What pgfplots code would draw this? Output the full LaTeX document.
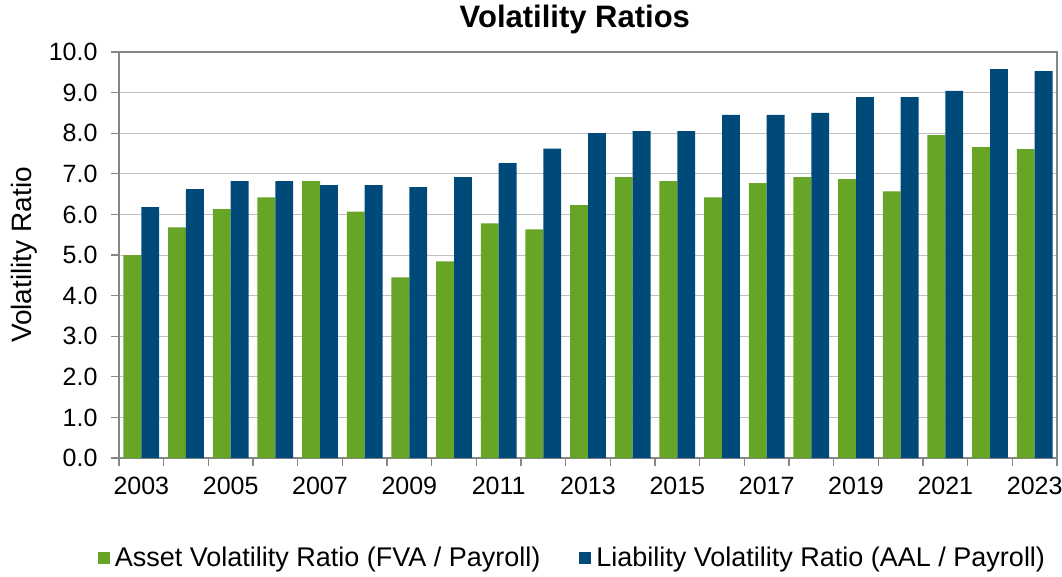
\documentclass[border=0pt]{standalone}
\usepackage{pgfplots}
\pgfplotsset{compat=1.18}
\usepackage{fontspec}
\setmainfont{Liberation Sans}
\definecolor{cgreen}{RGB}{102,165,38}
\definecolor{cblue}{RGB}{0,74,121}
\definecolor{cgrid}{RGB}{192,192,192}
\definecolor{caxis}{RGB}{134,134,134}
\begin{document}
\begin{tikzpicture}
\begin{axis}[
  scale only axis,
  width=938bp, height=406bp,
  at={(0,0)}, anchor=south west,
  ybar=0pt, bar width=0.4,
  xmin=-0.5, xmax=20.5,
  ymin=0, ymax=10,
  xtick={-0.5,0.5,...,20.5},
  xticklabels={},
  extra x ticks={0,2,...,20},
  extra x tick labels={2003,2005,2007,2009,2011,2013,2015,2017,2019,2021,2023},
  extra x tick style={major tick length=0pt},
  ytick={0,1,...,10},
  xtick pos=bottom, ytick pos=left,
  tick align=outside,
  major tick length=8bp,
  tick style={color=caxis, line width=1.2bp},
  axis line style={color=caxis, line width=1.2bp},
  ymajorgrids, xmajorgrids=false, major grid style={color=cgrid, line width=1bp},
  /pgf/number format/assume math mode=true,
  yticklabel style={/pgf/number format/fixed, /pgf/number format/fixed zerofill, /pgf/number format/precision=1},
  every y tick label/.append style={xshift=-10bp},
  every x tick label/.append style={yshift=-16bp},
  ticklabel style={font=\fontsize{25bp}{30bp}\selectfont},
  ylabel={Volatility Ratio},
  ylabel style={font=\fontsize{28bp}{32bp}\selectfont, at={(axis description cs:-0.1013,0.5)}, anchor=center, rotate=0},
  title={Volatility Ratios},
  title style={font=\bfseries\fontsize{31bp}{36bp}\selectfont, at={(axis description cs:0.486,1)}, anchor=base, yshift=19bp},
  legend columns=2,
  legend style={at={(axis description cs:0.485,-0.246)}, anchor=center, draw=none,
    font=\fontsize{27bp}{31bp}\selectfont,
    /tikz/every even column/.append style={column sep=34bp},
    nodes={inner sep=3bp, inner xsep=5bp}},
  legend image code/.code={\fill[#1] (0bp,-6bp) rectangle (12bp,6bp);},
]
\addplot[fill=cgreen, draw=none] coordinates {
(0,5.00) (1,5.68) (2,6.13) (3,6.42) (4,6.82) (5,6.07) (6,4.45) (7,4.84) (8,5.78) (9,5.63) (10,6.23)
(11,6.92) (12,6.82) (13,6.42) (14,6.77) (15,6.92) (16,6.87) (17,6.57) (18,7.95) (19,7.66) (20,7.61)};
\addplot[fill=cblue, draw=none] coordinates {
(0,6.18) (1,6.62) (2,6.82) (3,6.82) (4,6.72) (5,6.72) (6,6.67) (7,6.92) (8,7.26) (9,7.62) (10,8.00)
(11,8.05) (12,8.05) (13,8.45) (14,8.45) (15,8.50) (16,8.89) (17,8.89) (18,9.04) (19,9.58) (20,9.53)};
\legend{Asset Volatility Ratio (FVA / Payroll), Liability Volatility Ratio (AAL / Payroll)}
\end{axis}
\pgfresetboundingbox
\path[use as bounding box] (-119bp,-119bp) rectangle (943bp,458bp);
\end{tikzpicture}
\end{document}
